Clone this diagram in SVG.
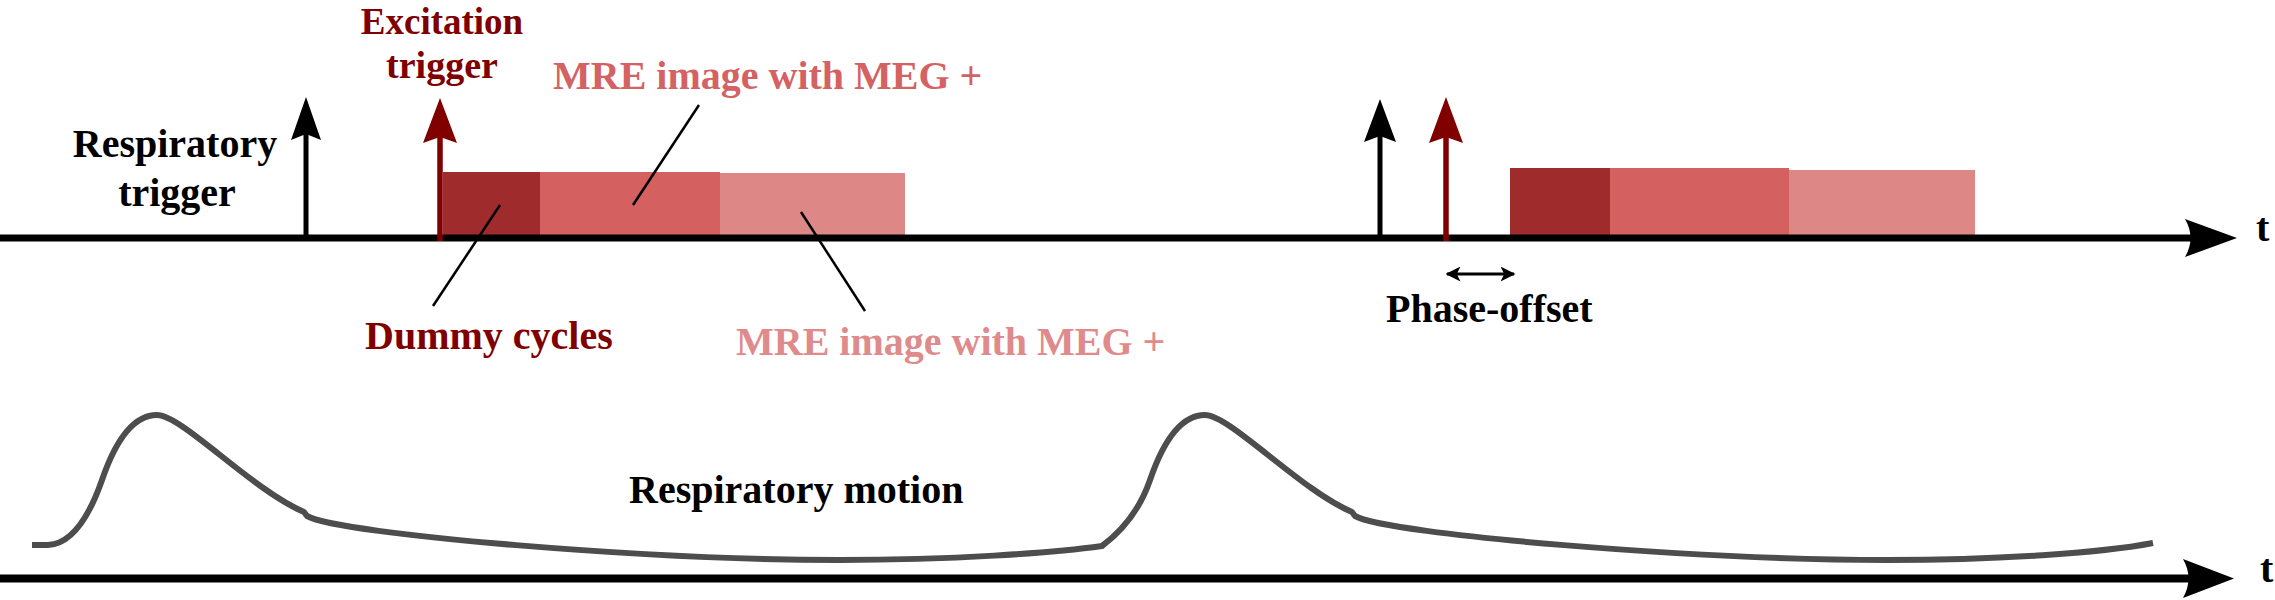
<svg xmlns="http://www.w3.org/2000/svg" width="2275" height="600" viewBox="0 0 2275 600">
<style>
.t{font-family:"Liberation Serif","Times New Roman",serif;font-weight:bold;font-size:40px}
.blk{fill:#000}
.dred{fill:#800000}
.mred{fill:#d46262}
.lred{fill:#e08b8b}
.lead{stroke:#000;stroke-width:2.5;fill:none}
.curve{stroke:#4d4d4d;stroke-width:6;fill:none;stroke-linejoin:round}
</style>
<defs>
<marker id="da" viewBox="0 0 10 10" refX="9" refY="5" markerWidth="5" markerHeight="5" orient="auto-start-reverse" markerUnits="strokeWidth">
<path d="M0,0 L10,5 L0,10 L2.5,5 Z" fill="#000"/>
</marker>
</defs>
<rect width="2275" height="600" fill="#fff"/>
<g id="blocks1">
<rect x="443" y="172" width="97" height="64" fill="#a02b2c"/>
<rect x="540" y="172" width="180" height="64" fill="#d46060"/>
<rect x="720" y="173" width="185" height="63" fill="#de8787"/>
</g>
<g id="blocks2">
<rect x="1510" y="168" width="100" height="68" fill="#a02b2c"/>
<rect x="1610" y="168" width="179" height="68" fill="#d46060"/>
<rect x="1789" y="170" width="186" height="67" fill="#de8787"/>
</g>
<g id="connectors">
<path d="M0,238 H2192" stroke="#000" stroke-width="7"/>
<path d="M2237,238 L2185,219 Q2196,238 2185,257 Z" fill="#000"/>
<path d="M0,578.5 H2190" stroke="#000" stroke-width="8"/>
<path d="M2234,578.5 L2183,559 Q2194,578.5 2183,598 Z" fill="#000"/>
<path d="M306,238 V130" stroke="#000" stroke-width="5"/>
<path d="M306,97 L321,140 L306,134 L291,140 Z" fill="#000"/>
<path d="M440,241 V132" stroke="#800000" stroke-width="5.5"/>
<path d="M440,98 L457,143 L440,137 L423,143 Z" fill="#800000"/>
<path d="M1380,238 V132" stroke="#000" stroke-width="5"/>
<path d="M1380,99 L1396,142 L1380,136 L1364,142 Z" fill="#000"/>
<path d="M1446,241 V132" stroke="#800000" stroke-width="5.5"/>
<path d="M1446,97 L1463,143 L1446,137 L1429,143 Z" fill="#800000"/>
<path d="M1447,274 H1514" stroke="#000" stroke-width="3" marker-start="url(#da)" marker-end="url(#da)"/>
<path class="lead" d="M500,205 L433,306"/>
<path class="lead" d="M699,105 L633,205"/>
<path class="lead" d="M801,212 L865,311"/>
</g>
<g id="motion">
<path class="curve" d="M32,545 L48,545 C70,544 88,520 102,480 C114,445 132,415 157,415 C182,415 252,490 304,512 L307,516 C342,535 652,560 839,560 C952,560 1052,553 1102,546 C1118,534 1138,515 1150,480 C1162,445 1180,415 1205,415 C1230,415 1300,490 1352,512 L1355,516 C1390,535 1700,560 1887,560 C2000,560 2100,553 2153,543"/>
</g>
<g id="labels">
<text class="t dred" x="442" y="34" text-anchor="middle" style="font-size:37px">Excitation</text>
<text class="t dred" x="442" y="78" text-anchor="middle" style="font-size:38px">trigger</text>
<text class="t blk" x="175" y="157" text-anchor="middle">Respiratory</text>
<text class="t blk" x="177" y="206" text-anchor="middle">trigger</text>
<text class="t mred" x="553" y="89">MRE image with MEG +</text>
<text class="t dred" x="365" y="349">Dummy cycles</text>
<text class="t lred" x="736" y="355">MRE image with MEG +</text>
<text class="t blk" x="1386" y="322">Phase-offset</text>
<text class="t blk" x="629" y="503">Respiratory motion</text>
<text class="t blk" x="2256" y="241">t</text>
<text class="t blk" x="2260" y="582">t</text>
</g>
</svg>
